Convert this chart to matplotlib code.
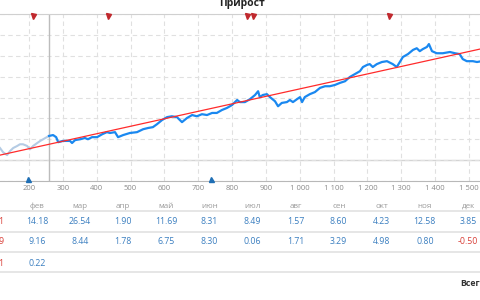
import matplotlib
matplotlib.use('Agg')
import matplotlib.pyplot as plt

plt.rcParams['font.family'] = ['Open Sans', 'DejaVu Sans']

# growth curve (trade number, growth %) - faded part before the signal start
pre_x = [114, 123, 135, 144, 153, 165, 173, 182, 194, 203, 212, 224, 233, 248, 259]
pre_y = [29, 19, 12, 22, 29, 34, 38, 38, 34, 26, 34, 41, 46, 53, 58]

sig_x = [259, 271, 280, 286, 300, 321, 327, 336, 351, 365, 374, 386, 401, 416, 430,
         439, 454, 463, 478, 498, 519, 537, 552, 566, 578, 593, 608, 622, 637, 652,
         667, 682, 696, 711, 726, 741, 755, 770, 785, 800, 815, 823, 838, 853, 868,
         877, 882, 891, 903, 912, 927, 936, 947, 962, 971, 980, 992, 1001, 1007, 1015,
         1030, 1045, 1060, 1075, 1089, 1104, 1119, 1134, 1148, 1163, 1178, 1187, 1199,
         1207, 1216, 1228, 1243, 1258, 1275, 1287, 1296, 1305, 1320, 1335, 1346, 1355,
         1364, 1376, 1382, 1391, 1405, 1423, 1444, 1459, 1473, 1482, 1494, 1512, 1524, 1538]
sig_y = [58, 60, 55, 43, 46, 46, 41, 48, 50, 53, 50, 55, 55, 62, 67,
         65, 67, 55, 60, 65, 67, 74, 77, 79, 86, 96, 103, 105, 103, 91,
         101, 108, 105, 110, 108, 113, 113, 120, 125, 132, 144, 139, 139, 146, 156,
         165, 151, 156, 158, 151, 141, 129, 137, 139, 144, 139, 146, 151, 139, 151,
         158, 163, 173, 177, 177, 180, 185, 189, 199, 206, 213, 223, 228,
         230, 223, 230, 235, 237, 230, 223, 235, 247, 254, 264, 268, 261,
         266, 271, 278, 261, 256, 256, 259, 256, 254, 242, 237, 237, 235, 237]

trend_x = [114, 1533]
trend_y = [12, 266]

loss_marks = [212, 433, 844, 862, 1264]
win_marks = [197, 738]
signal_start = 259

months = ['фев', 'мар', 'апр', 'май', 'июн', 'июл', 'авг', 'сен', 'окт', 'ноя', 'дек']
row1 = ['14.18', '26.54', '1.90', '11.69', '8.31', '8.49', '1.57', '8.60', '4.23', '12.58', '3.85']
row2 = ['9.16', '8.44', '1.78', '6.75', '8.30', '0.06', '1.71', '3.29', '4.98', '0.80', '-0.50']
row3 = ['0.22']
jan_tail = ['1', '9', '1']

xticks = list(range(200, 1501, 100))
xlabels = [f'{t:,}'.replace(',', ' ') for t in xticks]

W, H = 480, 300
fig = plt.figure(figsize=(4.8, 3.0), dpi=100)
ax = fig.add_axes([0, (H - 181) / H, 1, (181 - 14) / H])

ax.plot(pre_x, pre_y, color='#b4cbe4', lw=1.5, zorder=3)
ax.plot(sig_x, sig_y, color='#1a88f0', lw=1.6, zorder=4)
ax.plot(trend_x, trend_y, color='#ff2b2b', lw=0.9, zorder=5)

ax.axhline(0, color='#d4d4d4', lw=1, zorder=1)
ax.axvline(signal_start, color='#bcbcbc', lw=1, zorder=2)

ax.plot(loss_marks, [345] * len(loss_marks), 'v', color='#c0282d', ms=3.6, clip_on=False, zorder=6)
ax.plot(win_marks, [-45] * len(win_marks), '^', color='#1f6fb5', ms=3.6, clip_on=False, zorder=6)

ax.set_xlim(114, 1533)
ax.set_ylim(-50, 350)
ax.set_xticks(xticks)
ax.set_xticklabels(xlabels)
ax.set_yticks(range(-50, 351, 50))
ax.tick_params(axis='x', length=0, pad=3, labelsize=5.5, labelcolor='#8a8a8a')
ax.tick_params(axis='y', length=0, labelleft=False)
ax.grid(True, color='#e0e0e0', linestyle=(0, (4, 3)), linewidth=0.8, zorder=0)
ax.spines['left'].set_visible(False)
ax.spines['right'].set_visible(False)
ax.spines['top'].set_color('#d0d0d0')
ax.spines['bottom'].set_color('#b8b8b8')

fig.text(242 / W, (H - 6) / H, 'Прирост', ha='center', va='baseline',
         fontsize=7.5, fontweight='bold', color='#222222')

# monthly table
col_x = [37 + i * 43.1 for i in range(len(months))]
def fy(y):
    return (H - y) / H

for x, m in zip(col_x, months):
    fig.text(x / W, fy(206), m, ha='center', va='center', fontsize=5.8, color='#9a9a9a')
for row, yy in ((row1, 222), (row2, 242), (row3, 263)):
    for x, v in zip(col_x, row):
        c = '#d9413a' if v.startswith('-') else '#3b7fc0'
        fig.text(x / W, fy(yy), v, ha='center', va='center', fontsize=6.3, color=c)
for t, yy in zip(jan_tail, (222, 242, 263)):
    fig.text(3.5 / W, fy(yy), t, ha='right', va='center', fontsize=6.3, color='#d9413a')

for yy in (211, 231.5, 252, 272):
    fig.add_artist(plt.Line2D([0, 1], [fy(yy), fy(yy)], color='#e4e4e4', lw=1.3))

fig.text(460 / W, fy(283), 'Всего', ha='left', va='center', fontsize=6.3,
         fontweight='bold', color='#333333')

fig.savefig('out.png', dpi=100)
